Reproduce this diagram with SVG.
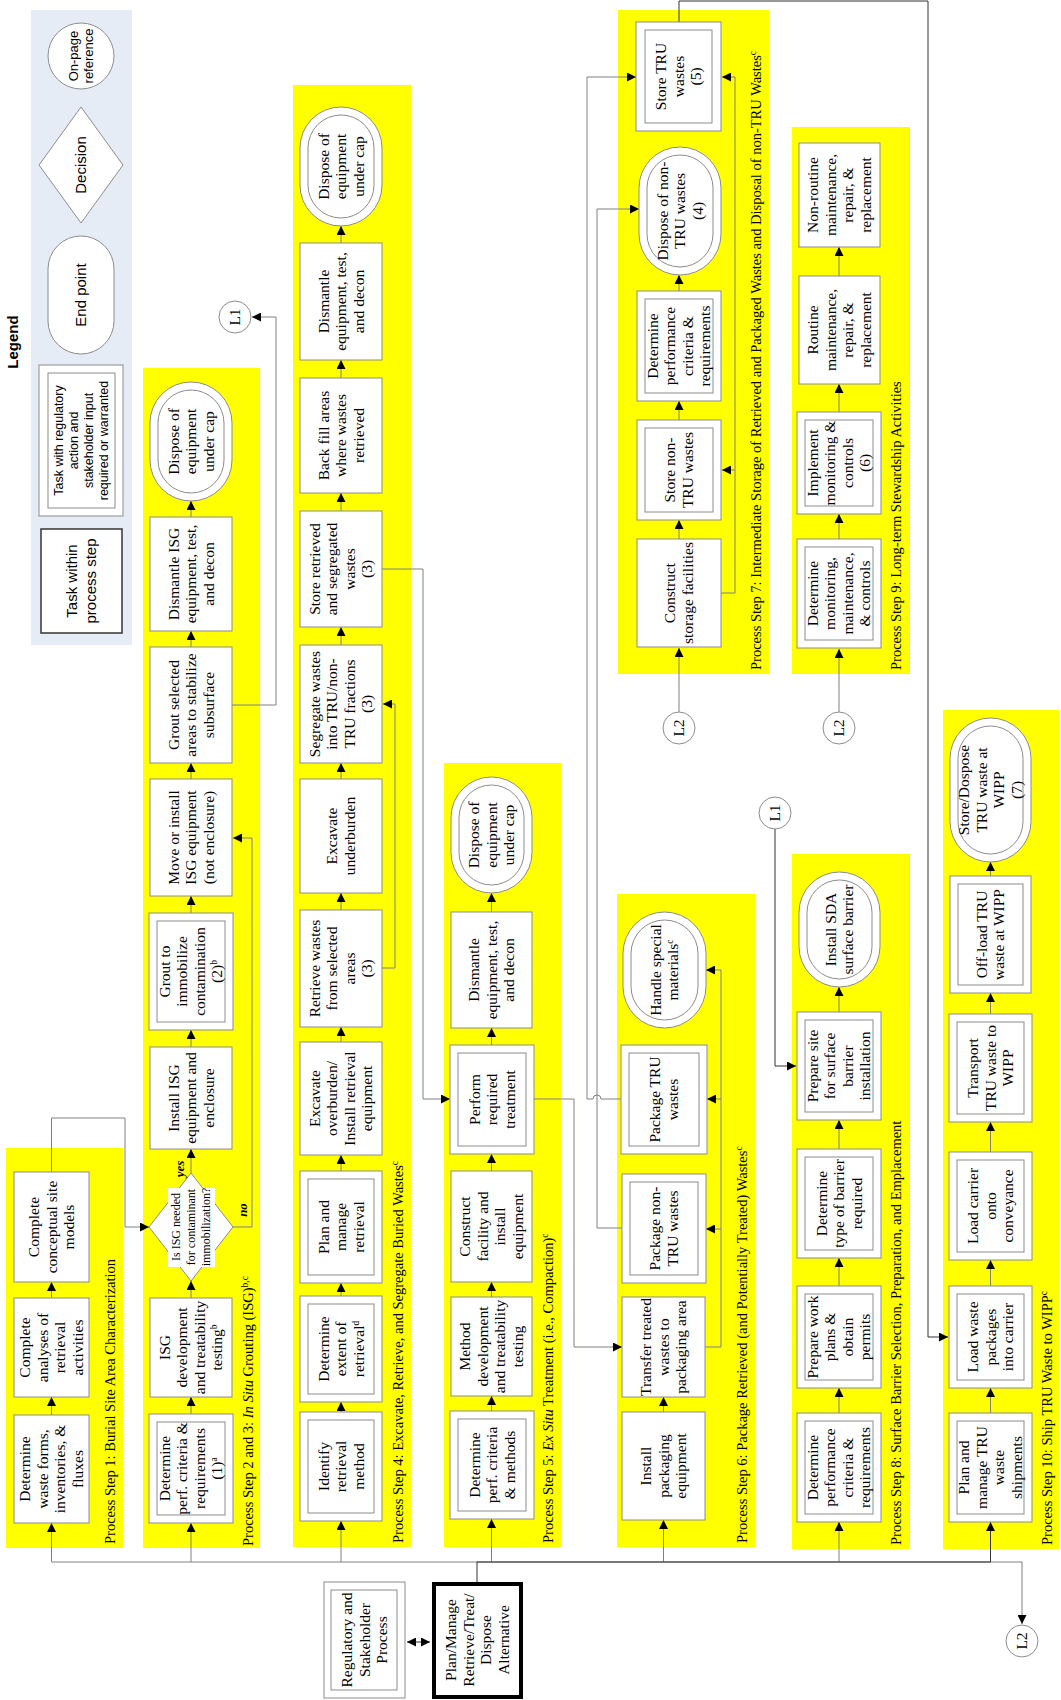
<svg xmlns="http://www.w3.org/2000/svg" width="1061" height="1700" viewBox="0 0 1061 1700">
<defs>
<marker id="ah" viewBox="0 0 10 10" refX="10" refY="5" markerWidth="9" markerHeight="9" markerUnits="userSpaceOnUse" orient="auto-start-reverse"><path d="M0,0 L10,5 L0,10 z" fill="#000"/></marker>
<style>
.panel{fill:#ffff00}
.box{fill:#fff;stroke:#8c8c8c;stroke-width:1}
.in{fill:none;stroke:#8c8c8c;stroke-width:1}
.t{font-family:"Liberation Serif","Times New Roman",serif;font-size:15.5px;text-anchor:middle;fill:#000}
.lbl{font-family:"Liberation Serif","Times New Roman",serif;font-size:14.5px;fill:#000}
.dt{font-family:"Liberation Serif","Times New Roman",serif;font-size:12px;text-anchor:middle;fill:#000}
.yn{font-family:"Liberation Serif","Times New Roman",serif;font-size:13px;font-weight:bold;font-style:italic;text-anchor:middle;fill:#000}
.lg{font-family:"Liberation Sans",Arial,sans-serif;text-anchor:middle;fill:#000}
.c{fill:none;stroke:#808080;stroke-width:1}
.cd{fill:none;stroke:#333;stroke-width:1}
.ar{marker-end:url(#ah)}
</style>
</defs>

<!-- Legend -->
<g id="legend">
<rect x="31" y="10" width="101" height="635" fill="#e6ecf6"/>
<text class="lg" font-size="15" font-weight="bold" transform="translate(13,342) rotate(-90)" x="0" y="5">Legend</text>
<g id="lg-ref"><circle cx="81" cy="56" r="33" class="box"/>
<text class="lg" font-size="13" transform="translate(81,56) rotate(-90)"><tspan x="0" y="-3">On-page</tspan><tspan x="0" y="12">reference</tspan></text></g>
<g id="lg-dec"><polygon points="81,107 123,165 81,223 39,165" class="box"/>
<text class="lg" font-size="15" transform="translate(81,165) rotate(-90)" x="0" y="5">Decision</text></g>
<g id="lg-end"><rect x="48" y="236" width="66" height="118" rx="33" ry="33" class="box"/>
<text class="lg" font-size="15" transform="translate(81,295) rotate(-90)" x="0" y="5">End point</text></g>
<g id="lg-reg"><rect x="39" y="365" width="84" height="151" class="box"/><rect x="48" y="373" width="67" height="135" class="in"/>
<text class="lg" font-size="12.5" transform="translate(81.5,440.5) rotate(-90)"><tspan x="0" y="-18.1">Task with regulatory</tspan><tspan x="0" y="-3.1">action and</tspan><tspan x="0" y="11.9">stakeholder input</tspan><tspan x="0" y="26.9">required or warranted</tspan></text></g>
<g id="lg-task"><rect x="41" y="529" width="81" height="104" fill="#fff" stroke="#333" stroke-width="1.5"/>
<text class="lg" font-size="15" transform="translate(81.5,581) rotate(-90)"><tspan x="0" y="-4.2">Task within</tspan><tspan x="0" y="14.8">process step</tspan></text></g>
</g>

<!-- Panels -->
<g id="panels">
<rect class="panel" x="6" y="1148" width="117" height="400"/>
<rect class="panel" x="143" y="368" width="117" height="1180"/>
<rect class="panel" x="293" y="85" width="118" height="1462"/>
<rect class="panel" x="444" y="763" width="117" height="784"/>
<rect class="panel" x="617" y="894" width="138" height="653"/>
<rect class="panel" x="618" y="10" width="151" height="664"/>
<rect class="panel" x="792" y="127" width="118" height="547"/>
<rect class="panel" x="792" y="854" width="118" height="695"/>
<rect class="panel" x="943" y="710" width="116" height="839"/>
<text class="lbl" transform="translate(115,1544) rotate(-90)">Process Step 1: Burial Site Area Characterization</text>
<text class="lbl" transform="translate(253,1546) rotate(-90)">Process Step 2 and 3: <tspan font-style="italic">In Situ</tspan> Grouting (ISG)<tspan dy="-5" font-size="9.5">b,c</tspan></text>
<text class="lbl" transform="translate(403,1543) rotate(-90)">Process Step 4: Excavate, Retrieve, and Segregate Buried Wastes<tspan dy="-5" font-size="9.5">c</tspan></text>
<text class="lbl" transform="translate(553,1543) rotate(-90)">Process Step 5: <tspan font-style="italic">Ex Situ</tspan> Treatment (i.e., Compaction)<tspan dy="-5" font-size="9.5">c</tspan></text>
<text class="lbl" transform="translate(747,1543) rotate(-90)">Process Step 6: Package Retrieved (and Potentially Treated) Wastes<tspan dy="-5" font-size="9.5">c</tspan></text>
<text class="lbl" transform="translate(761,670) rotate(-90)">Process Step 7: Intermediate Storage of Retrieved and Packaged Wastes and Disposal of non-TRU Wastes<tspan dy="-5" font-size="9.5">c</tspan></text>
<text class="lbl" transform="translate(901,670) rotate(-90)">Process Step 9: Long-term Stewardship Activities</text>
<text class="lbl" transform="translate(901,1545) rotate(-90)">Process Step 8: Surface Barrier Selection, Preparation, and Emplacement</text>
<text class="lbl" transform="translate(1052,1545) rotate(-90)">Process Step 10: Ship TRU Waste to WIPP<tspan dy="-5" font-size="9.5">c</tspan></text>
</g>

<!-- Connectors -->
<g id="connectors">
<path class="c ar" d="M51.5,1415 V1397"/><path class="c ar" d="M51.5,1298 V1282"/>
<path class="c ar" d="M191,1414 V1397"/><path class="c ar" d="M191,1298 V1281"/><path class="c ar" d="M191,1173 V1149"/><path class="c ar" d="M191,1047 V1030"/><path class="c ar" d="M191,913 V896"/><path class="c ar" d="M191,779 V763"/><path class="c ar" d="M191,647 V631"/><path class="c ar" d="M191,517 V501"/>
<path class="c ar" d="M341,1412 V1402"/><path class="c ar" d="M341,1296 V1283"/><path class="c ar" d="M341,1171 V1155"/><path class="c ar" d="M341,1042 V1027"/><path class="c ar" d="M341,910 V893"/><path class="c ar" d="M341,779 V763"/><path class="c ar" d="M341,645 V627"/><path class="c ar" d="M341,511 V493"/><path class="c ar" d="M341,378 V360"/><path class="c ar" d="M341,243 V226"/>
<path class="c ar" d="M491.5,1411 V1396"/><path class="c ar" d="M491.5,1297 V1282"/><path class="c ar" d="M491.5,1171 V1154"/><path class="c ar" d="M491.5,1045 V1028"/><path class="c ar" d="M491.5,912 V893"/>
<path class="c ar" d="M663.5,1412 V1397"/>
<path class="c ar" d="M679,539 V520"/><path class="c ar" d="M679,420 V401"/><path class="c ar" d="M679,291 V275"/>
<path class="c ar" d="M839,539 V514"/><path class="c ar" d="M839,412 V384"/><path class="c ar" d="M839,276 V247"/>
<path class="c ar" d="M839,1413 V1388"/><path class="c ar" d="M839,1286 V1258"/><path class="c ar" d="M839,1149 V1120"/><path class="c ar" d="M839,1012 V987"/>
<path class="c ar" d="M990.5,1413 V1388"/><path class="c ar" d="M990.5,1286 V1260"/><path class="c ar" d="M990.5,1152 V1122"/><path class="c ar" d="M990.5,1014 V993"/><path class="c ar" d="M990.5,876 V862"/>
<path class="c" d="M51.5,1562 H1022"/>
<path class="c ar" d="M51.5,1562 V1523"/><path class="c ar" d="M191,1562 V1523"/><path class="c ar" d="M341,1562 V1521"/><path class="c ar" d="M491.5,1562 V1519"/><path class="c ar" d="M663.5,1562 V1520"/><path class="c ar" d="M839,1562 V1522"/>
<path class="cd" d="M477,1582 V1562 H990.5"/><path class="cd ar" d="M990.5,1562 V1522"/>
<path class="c ar" d="M1022,1562 V1624"/>
<path class="cd ar" d="M407,1642 H430" marker-start="url(#ah)"/>
<path class="c ar" d="M51.5,1172 V1118 H125 V1227 H149"/>
<path class="c ar" d="M233,1227 H252 V838 H233"/>
<path class="c ar" d="M232,705 H276 V317 H252"/>
<path class="c ar" d="M382,968 H395 V704 H383"/>
<path class="c ar" d="M382,569 H423 V1099 H450"/>
<path class="c ar" d="M534,1099 H574 V1347 H622"/>
<path class="c ar" d="M705,1347 H721 V1229 H706"/>
<path class="c ar" d="M721,1229 V1099 H707"/>
<path class="c ar" d="M721,1099 V970 H706"/>
<path class="c ar" d="M622,1228 H597 V209 H639"/>
<path class="c ar" d="M621,1099 H601 A4,4 0 0 0 593,1099 H587 V77 H636"/>
<path class="c ar" d="M721,593 H735 V77 H722"/>
<path class="c ar" d="M735,470 H722"/>
<path class="c ar" d="M679,712 V648"/>
<path class="c ar" d="M839,712 V649"/>
<path class="cd ar" d="M775,829 V1066 H796"/>
<path class="cd ar" d="M679,22 V1 H928 V1337 H948"/>
</g>

<!-- Panel 1 -->
<g id="n1a"><rect class="box" x="14" y="1415" width="75" height="108"/><text class="t" transform="translate(51.5,1469) rotate(-90)"><tspan x="0" y="-21.25">Determine</tspan><tspan x="0" y="-3.75">waste forms,</tspan><tspan x="0" y="13.75">inventories, &amp;</tspan><tspan x="0" y="31.25">fluxes</tspan></text></g>
<g id="n1b"><rect class="box" x="14" y="1298" width="75" height="99"/><text class="t" transform="translate(51.5,1347.5) rotate(-90)"><tspan x="0" y="-21.25">Complete</tspan><tspan x="0" y="-3.75">analyses of</tspan><tspan x="0" y="13.75">retrieval</tspan><tspan x="0" y="31.25">activities</tspan></text></g>
<g id="n1c"><rect class="box" x="14" y="1172" width="75" height="110"/><text class="t" transform="translate(51.5,1227) rotate(-90)"><tspan x="0" y="-12.5">Complete</tspan><tspan x="0" y="5">conceptual site</tspan><tspan x="0" y="22.5">models</tspan></text></g>

<!-- Panel 2 -->
<g id="n2a"><rect class="box" x="149" y="1414" width="84" height="109"/><rect class="in" x="157" y="1422" width="68" height="93"/><text class="t" transform="translate(191,1468.5) rotate(-90)"><tspan x="0" y="-21.25">Determine</tspan><tspan x="0" y="-3.75">perf. criteria &amp;</tspan><tspan x="0" y="13.75">requirements</tspan><tspan x="0" y="31.25">(1)<tspan dy="-5" font-size="9.5">a</tspan></tspan></text></g>
<g id="n2b"><rect class="box" x="150" y="1298" width="82" height="99"/><text class="t" transform="translate(191,1347.5) rotate(-90)"><tspan x="0" y="-21.25">ISG</tspan><tspan x="0" y="-3.75">development</tspan><tspan x="0" y="13.75">and treatability</tspan><tspan x="0" y="31.25">testing<tspan dy="-5" font-size="9.5">b</tspan></tspan></text></g>
<g id="n2dec"><polygon class="box" points="191,1173 233,1227 191,1281 149,1227"/><rect x="168" y="1188" width="47" height="79" fill="#fff"/><text class="dt" transform="translate(191,1227) rotate(-90)"><tspan x="0" y="-11">Is ISG needed</tspan><tspan x="0" y="4">for contaminant</tspan><tspan x="0" y="19">immobilization?</tspan></text>
<text class="yn" transform="translate(184,1169) rotate(-90)" x="0" y="0">yes</text><text class="yn" transform="translate(247,1210) rotate(-90)" x="0" y="0">no</text></g>
<g id="n2c"><rect class="box" x="150" y="1047" width="82" height="102"/><text class="t" transform="translate(191,1098) rotate(-90)"><tspan x="0" y="-12.5">Install ISG</tspan><tspan x="0" y="5">equipment and</tspan><tspan x="0" y="22.5">enclosure</tspan></text></g>
<g id="n2d"><rect class="box" x="149" y="913" width="84" height="117"/><rect class="in" x="157" y="921" width="68" height="101"/><text class="t" transform="translate(191,971.5) rotate(-90)"><tspan x="0" y="-21.25">Grout to</tspan><tspan x="0" y="-3.75">immobilize</tspan><tspan x="0" y="13.75">contamination</tspan><tspan x="0" y="31.25">(2)<tspan dy="-5" font-size="9.5">b</tspan></tspan></text></g>
<g id="n2e"><rect class="box" x="150" y="779" width="82" height="117"/><text class="t" transform="translate(191,837.5) rotate(-90)"><tspan x="0" y="-12.5">Move or install</tspan><tspan x="0" y="5">ISG equipment</tspan><tspan x="0" y="22.5">(not enclosure)</tspan></text></g>
<g id="n2f"><rect class="box" x="150" y="647" width="82" height="116"/><text class="t" transform="translate(191,705) rotate(-90)"><tspan x="0" y="-12.5">Grout selected</tspan><tspan x="0" y="5">areas to stabilize</tspan><tspan x="0" y="22.5">subsurface</tspan></text></g>
<g id="n2g"><rect class="box" x="150" y="517" width="82" height="114"/><text class="t" transform="translate(191,574) rotate(-90)"><tspan x="0" y="-12.5">Dismantle ISG</tspan><tspan x="0" y="5">equipment, test,</tspan><tspan x="0" y="22.5">and decon</tspan></text></g>
<g id="n2h"><rect class="box" x="150" y="382" width="82" height="119" rx="41" ry="41"/><rect class="in" x="158" y="390" width="66" height="103" rx="33" ry="33"/><text class="t" transform="translate(191,441.5) rotate(-90)"><tspan x="0" y="-12.5">Dispose of</tspan><tspan x="0" y="5">equipment</tspan><tspan x="0" y="22.5">under cap</tspan></text></g>
<g id="L1a"><circle class="box" cx="235" cy="317" r="16"/><text class="t" transform="translate(235,317) rotate(-90)" x="0" y="5">L1</text></g>

<!-- Panel 4 -->
<g id="n4a"><rect class="box" x="300" y="1412" width="82" height="109"/><rect class="in" x="308" y="1420" width="66" height="93"/><text class="t" transform="translate(341,1466.5) rotate(-90)"><tspan x="0" y="-12.5">Identify</tspan><tspan x="0" y="5">retrieval</tspan><tspan x="0" y="22.5">method</tspan></text></g>
<g id="n4b"><rect class="box" x="300" y="1296" width="82" height="106"/><rect class="in" x="308" y="1304" width="66" height="90"/><text class="t" transform="translate(341,1349) rotate(-90)"><tspan x="0" y="-12.5">Determine</tspan><tspan x="0" y="5">extent of</tspan><tspan x="0" y="22.5">retrieval<tspan dy="-5" font-size="9.5">d</tspan></tspan></text></g>
<g id="n4c"><rect class="box" x="300" y="1171" width="82" height="112"/><rect class="in" x="308" y="1179" width="66" height="96"/><text class="t" transform="translate(341,1227) rotate(-90)"><tspan x="0" y="-12.5">Plan and</tspan><tspan x="0" y="5">manage</tspan><tspan x="0" y="22.5">retrieval</tspan></text></g>
<g id="n4d"><rect class="box" x="300" y="1042" width="82" height="113"/><text class="t" transform="translate(341,1098.5) rotate(-90)"><tspan x="0" y="-21.25">Excavate</tspan><tspan x="0" y="-3.75">overburden/</tspan><tspan x="0" y="13.75">Install retrieval</tspan><tspan x="0" y="31.25">equipment</tspan></text></g>
<g id="n4e"><rect class="box" x="300" y="910" width="82" height="117"/><text class="t" transform="translate(341,968.5) rotate(-90)"><tspan x="0" y="-21.25">Retrieve wastes</tspan><tspan x="0" y="-3.75">from selected</tspan><tspan x="0" y="13.75">areas</tspan><tspan x="0" y="31.25">(3)</tspan></text></g>
<g id="n4f"><rect class="box" x="300" y="779" width="82" height="114"/><text class="t" transform="translate(341,836) rotate(-90)"><tspan x="0" y="-3.75">Excavate</tspan><tspan x="0" y="13.75">underburden</tspan></text></g>
<g id="n4g"><rect class="box" x="300" y="645" width="82" height="118"/><text class="t" transform="translate(341,704) rotate(-90)"><tspan x="0" y="-21.25">Segregate wastes</tspan><tspan x="0" y="-3.75">into TRU/non-</tspan><tspan x="0" y="13.75">TRU fractions</tspan><tspan x="0" y="31.25">(3)</tspan></text></g>
<g id="n4h"><rect class="box" x="300" y="511" width="82" height="116"/><text class="t" transform="translate(341,569) rotate(-90)"><tspan x="0" y="-21.25">Store retrieved</tspan><tspan x="0" y="-3.75">and segregated</tspan><tspan x="0" y="13.75">wastes</tspan><tspan x="0" y="31.25">(3)</tspan></text></g>
<g id="n4i"><rect class="box" x="300" y="378" width="82" height="115"/><text class="t" transform="translate(341,435.5) rotate(-90)"><tspan x="0" y="-12.5">Back fill areas</tspan><tspan x="0" y="5">where wastes</tspan><tspan x="0" y="22.5">retrieved</tspan></text></g>
<g id="n4j"><rect class="box" x="300" y="243" width="82" height="117"/><text class="t" transform="translate(341,301.5) rotate(-90)"><tspan x="0" y="-12.5">Dismantle</tspan><tspan x="0" y="5">equipment, test,</tspan><tspan x="0" y="22.5">and decon</tspan></text></g>
<g id="n4k"><rect class="box" x="300" y="107" width="82" height="119" rx="41" ry="41"/><rect class="in" x="308" y="115" width="66" height="103" rx="33" ry="33"/><text class="t" transform="translate(341,166.5) rotate(-90)"><tspan x="0" y="-12.5">Dispose of</tspan><tspan x="0" y="5">equipment</tspan><tspan x="0" y="22.5">under cap</tspan></text></g>

<!-- Panel 5 -->
<g id="n5a"><rect class="box" x="450" y="1411" width="84" height="108"/><rect class="in" x="458" y="1419" width="68" height="92"/><text class="t" transform="translate(492,1465) rotate(-90)"><tspan x="0" y="-12.5">Determine</tspan><tspan x="0" y="5">perf. criteria</tspan><tspan x="0" y="22.5">&amp; methods</tspan></text></g>
<g id="n5b"><rect class="box" x="451" y="1297" width="81" height="99"/><text class="t" transform="translate(491.5,1346.5) rotate(-90)"><tspan x="0" y="-21.25">Method</tspan><tspan x="0" y="-3.75">development</tspan><tspan x="0" y="13.75">and treatability</tspan><tspan x="0" y="31.25">testing</tspan></text></g>
<g id="n5c"><rect class="box" x="451" y="1171" width="81" height="111"/><text class="t" transform="translate(491.5,1226.5) rotate(-90)"><tspan x="0" y="-21.25">Construct</tspan><tspan x="0" y="-3.75">facility and</tspan><tspan x="0" y="13.75">install</tspan><tspan x="0" y="31.25">equipment</tspan></text></g>
<g id="n5d"><rect class="box" x="450" y="1045" width="84" height="109"/><rect class="in" x="458" y="1053" width="68" height="93"/><text class="t" transform="translate(492,1099.5) rotate(-90)"><tspan x="0" y="-12.5">Perform</tspan><tspan x="0" y="5">required</tspan><tspan x="0" y="22.5">treatment</tspan></text></g>
<g id="n5e"><rect class="box" x="451" y="912" width="81" height="116"/><text class="t" transform="translate(491.5,970) rotate(-90)"><tspan x="0" y="-12.5">Dismantle</tspan><tspan x="0" y="5">equipment, test,</tspan><tspan x="0" y="22.5">and decon</tspan></text></g>
<g id="n5f"><rect class="box" x="451" y="777" width="81" height="116" rx="40.5" ry="40.5"/><rect class="in" x="459" y="785" width="65" height="100" rx="32.5" ry="32.5"/><text class="t" transform="translate(491.5,835) rotate(-90)"><tspan x="0" y="-12.5">Dispose of</tspan><tspan x="0" y="5">equipment</tspan><tspan x="0" y="22.5">under cap</tspan></text></g>

<!-- Panel 6 -->
<g id="n6a"><rect class="box" x="622" y="1412" width="83" height="108"/><text class="t" transform="translate(663.5,1466) rotate(-90)"><tspan x="0" y="-12.5">Install</tspan><tspan x="0" y="5">packaging</tspan><tspan x="0" y="22.5">equipment</tspan></text></g>
<g id="n6b"><rect class="box" x="622" y="1297" width="83" height="100"/><text class="t" transform="translate(663.5,1347) rotate(-90)"><tspan x="0" y="-12.5">Transfer treated</tspan><tspan x="0" y="5">wastes to</tspan><tspan x="0" y="22.5">packaging area</tspan></text></g>
<g id="n6c"><rect class="box" x="622" y="1174" width="84" height="109"/><rect class="in" x="630" y="1182" width="68" height="93"/><text class="t" transform="translate(664,1228.5) rotate(-90)"><tspan x="0" y="-3.75">Package non-</tspan><tspan x="0" y="13.75">TRU wastes</tspan></text></g>
<g id="n6d"><rect class="box" x="621" y="1045" width="86" height="109"/><rect class="in" x="629" y="1053" width="70" height="93"/><text class="t" transform="translate(664,1099.5) rotate(-90)"><tspan x="0" y="-3.75">Package TRU</tspan><tspan x="0" y="13.75">wastes</tspan></text></g>
<g id="n6e"><rect class="box" x="623" y="912" width="83" height="116" rx="41.5" ry="41.5"/><rect class="in" x="631" y="920" width="67" height="100" rx="33.5" ry="33.5"/><text class="t" transform="translate(664.5,970) rotate(-90)"><tspan x="0" y="-3.75">Handle special</tspan><tspan x="0" y="13.75">materials<tspan dy="-5" font-size="9.5">c</tspan></tspan></text></g>

<!-- Panel 7 -->
<g id="n7a"><rect class="box" x="637" y="539" width="84" height="108"/><text class="t" transform="translate(679,593) rotate(-90)"><tspan x="0" y="-3.75">Construct</tspan><tspan x="0" y="13.75">storage facilities</tspan></text></g>
<g id="n7b"><rect class="box" x="637" y="420" width="84" height="100"/><rect class="in" x="645" y="428" width="68" height="84"/><text class="t" transform="translate(679,470) rotate(-90)"><tspan x="0" y="-3.75">Store non-</tspan><tspan x="0" y="13.75">TRU wastes</tspan></text></g>
<g id="n7c"><rect class="box" x="637" y="291" width="84" height="110"/><rect class="in" x="645" y="299" width="68" height="94"/><text class="t" transform="translate(679,346) rotate(-90)"><tspan x="0" y="-21.25">Determine</tspan><tspan x="0" y="-3.75">performance</tspan><tspan x="0" y="13.75">criteria &amp;</tspan><tspan x="0" y="31.25">requirements</tspan></text></g>
<g id="n7d"><rect class="box" x="639" y="147" width="82" height="128" rx="41" ry="41"/><rect class="in" x="647" y="155" width="66" height="112" rx="33" ry="33"/><text class="t" transform="translate(680,211) rotate(-90)"><tspan x="0" y="-12.5">Dispose of non-</tspan><tspan x="0" y="5">TRU wastes</tspan><tspan x="0" y="22.5">(4)</tspan></text></g>
<g id="n7e"><rect class="box" x="636" y="22" width="85" height="109"/><rect class="in" x="645" y="30" width="67" height="93"/><text class="t" transform="translate(678.5,76.5) rotate(-90)"><tspan x="0" y="-12.5">Store TRU</tspan><tspan x="0" y="5">wastes</tspan><tspan x="0" y="22.5">(5)</tspan></text></g>
<g id="L2a"><circle class="box" cx="679" cy="728" r="16"/><text class="t" transform="translate(679,728) rotate(-90)" x="0" y="5">L2</text></g>

<!-- Panel 9 -->
<g id="n9a"><rect class="box" x="797" y="539" width="84" height="109"/><rect class="in" x="805" y="547" width="68" height="93"/><text class="t" transform="translate(839,593.5) rotate(-90)"><tspan x="0" y="-21.25">Determine</tspan><tspan x="0" y="-3.75">monitoring,</tspan><tspan x="0" y="13.75">maintenance,</tspan><tspan x="0" y="31.25">&amp; controls</tspan></text></g>
<g id="n9b"><rect class="box" x="797" y="412" width="84" height="102"/><rect class="in" x="805" y="420" width="68" height="86"/><text class="t" transform="translate(839,463) rotate(-90)"><tspan x="0" y="-21.25">Implement</tspan><tspan x="0" y="-3.75">monitoring &amp;</tspan><tspan x="0" y="13.75">controls</tspan><tspan x="0" y="31.25">(6)</tspan></text></g>
<g id="n9c"><rect class="box" x="799" y="276" width="81" height="108"/><text class="t" transform="translate(839.5,330) rotate(-90)"><tspan x="0" y="-21.25">Routine</tspan><tspan x="0" y="-3.75">maintenance,</tspan><tspan x="0" y="13.75">repair, &amp;</tspan><tspan x="0" y="31.25">replacement</tspan></text></g>
<g id="n9d"><rect class="box" x="799" y="143" width="81" height="104"/><text class="t" transform="translate(839.5,195) rotate(-90)"><tspan x="0" y="-21.25">Non-routine</tspan><tspan x="0" y="-3.75">maintenance,</tspan><tspan x="0" y="13.75">repair, &amp;</tspan><tspan x="0" y="31.25">replacement</tspan></text></g>
<g id="L2b"><circle class="box" cx="839" cy="728" r="16"/><text class="t" transform="translate(839,728) rotate(-90)" x="0" y="5">L2</text></g>

<!-- Panel 8 -->
<g id="n8a"><rect class="box" x="797" y="1413" width="84" height="109"/><rect class="in" x="805" y="1421" width="68" height="93"/><text class="t" transform="translate(839,1467.5) rotate(-90)"><tspan x="0" y="-21.25">Determine</tspan><tspan x="0" y="-3.75">performance</tspan><tspan x="0" y="13.75">criteria &amp;</tspan><tspan x="0" y="31.25">requirements</tspan></text></g>
<g id="n8b"><rect class="box" x="797" y="1286" width="84" height="102"/><rect class="in" x="805" y="1294" width="68" height="86"/><text class="t" transform="translate(839,1337) rotate(-90)"><tspan x="0" y="-21.25">Prepare work</tspan><tspan x="0" y="-3.75">plans &amp;</tspan><tspan x="0" y="13.75">obtain</tspan><tspan x="0" y="31.25">permits</tspan></text></g>
<g id="n8c"><rect class="box" x="797" y="1149" width="84" height="109"/><rect class="in" x="805" y="1157" width="68" height="93"/><text class="t" transform="translate(839,1203.5) rotate(-90)"><tspan x="0" y="-12.5">Determine</tspan><tspan x="0" y="5">type of barrier</tspan><tspan x="0" y="22.5">required</tspan></text></g>
<g id="n8d"><rect class="box" x="797" y="1012" width="84" height="108"/><rect class="in" x="805" y="1020" width="68" height="92"/><text class="t" transform="translate(839,1066) rotate(-90)"><tspan x="0" y="-21.25">Prepare site</tspan><tspan x="0" y="-3.75">for surface</tspan><tspan x="0" y="13.75">barrier</tspan><tspan x="0" y="31.25">installation</tspan></text></g>
<g id="n8e"><rect class="box" x="799" y="872" width="81" height="115" rx="40.5" ry="40.5"/><rect class="in" x="807" y="880" width="65" height="99" rx="32.5" ry="32.5"/><text class="t" transform="translate(839.5,929.5) rotate(-90)"><tspan x="0" y="-3.75">Install SDA</tspan><tspan x="0" y="13.75">surface barrier</tspan></text></g>
<g id="L1b"><circle class="box" cx="775" cy="813" r="16"/><text class="t" transform="translate(775,813) rotate(-90)" x="0" y="5">L1</text></g>

<!-- Panel 10 -->
<g id="n10a"><rect class="box" x="949" y="1413" width="83" height="109"/><rect class="in" x="957" y="1421" width="67" height="93"/><text class="t" transform="translate(990.5,1467.5) rotate(-90)"><tspan x="0" y="-21.25">Plan and</tspan><tspan x="0" y="-3.75">manage TRU</tspan><tspan x="0" y="13.75">waste</tspan><tspan x="0" y="31.25">shipments</tspan></text></g>
<g id="n10b"><rect class="box" x="949" y="1286" width="83" height="102"/><rect class="in" x="957" y="1294" width="67" height="86"/><text class="t" transform="translate(990.5,1337) rotate(-90)"><tspan x="0" y="-12.5">Load waste</tspan><tspan x="0" y="5">packages</tspan><tspan x="0" y="22.5">into carrier</tspan></text></g>
<g id="n10c"><rect class="box" x="949" y="1152" width="83" height="108"/><rect class="in" x="957" y="1160" width="67" height="92"/><text class="t" transform="translate(990.5,1206) rotate(-90)"><tspan x="0" y="-12.5">Load carrier</tspan><tspan x="0" y="5">onto</tspan><tspan x="0" y="22.5">conveyance</tspan></text></g>
<g id="n10d"><rect class="box" x="949" y="1014" width="83" height="108"/><rect class="in" x="957" y="1022" width="67" height="92"/><text class="t" transform="translate(990.5,1068) rotate(-90)"><tspan x="0" y="-12.5">Transport</tspan><tspan x="0" y="5">TRU waste to</tspan><tspan x="0" y="22.5">WIPP</tspan></text></g>
<g id="n10e"><rect class="box" x="950" y="876" width="81" height="117"/><rect class="in" x="958" y="884" width="65" height="101"/><text class="t" transform="translate(990.5,934.5) rotate(-90)"><tspan x="0" y="-3.75">Off-load TRU</tspan><tspan x="0" y="13.75">waste at WIPP</tspan></text></g>
<g id="n10f"><rect class="box" x="950" y="718" width="81" height="144" rx="40.5" ry="40.5"/><rect class="in" x="958" y="726" width="65" height="128" rx="32.5" ry="32.5"/><text class="t" transform="translate(990.5,790) rotate(-90)"><tspan x="0" y="-21.25">Store/Dospose</tspan><tspan x="0" y="-3.75">TRU waste at</tspan><tspan x="0" y="13.75">WIPP</tspan><tspan x="0" y="31.25">(7)</tspan></text></g>
<g id="L2c"><circle class="box" cx="1022" cy="1641" r="16"/><text class="t" transform="translate(1022,1641) rotate(-90)" x="0" y="5">L2</text></g>

<!-- Bottom -->
<g id="reg"><rect class="box" x="324" y="1582" width="81" height="116"/><rect class="in" x="331" y="1590" width="66" height="100"/><text class="t" transform="translate(364.5,1640) rotate(-90)"><tspan x="0" y="-12.5">Regulatory and</tspan><tspan x="0" y="5">Stakeholder</tspan><tspan x="0" y="22.5">Process</tspan></text></g>
<g id="plan"><rect x="434" y="1584" width="87" height="113" fill="#fff" stroke="#000" stroke-width="4"/><text class="t" transform="translate(477.5,1640) rotate(-90)"><tspan x="0" y="-21.25">Plan/Manage</tspan><tspan x="0" y="-3.75">Retrieve/Treat/</tspan><tspan x="0" y="13.75">Dispose</tspan><tspan x="0" y="31.25">Alternative</tspan></text></g>
</svg>
